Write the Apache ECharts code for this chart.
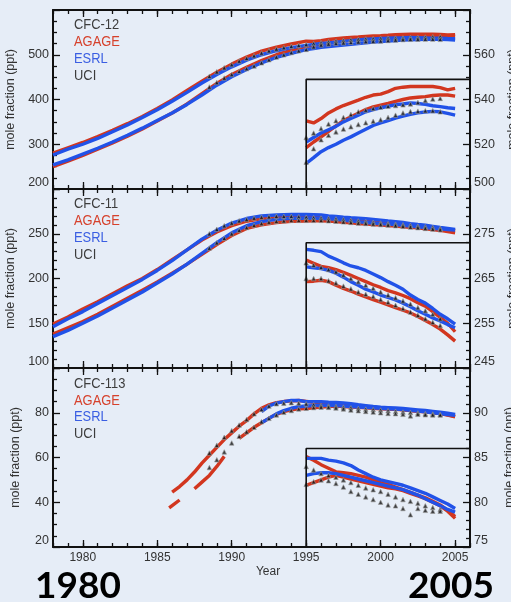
<!DOCTYPE html>
<html><head><meta charset="utf-8">
<script src="https://cdn.jsdelivr.net/npm/echarts@6/dist/echarts.min.js"></script>
<style>html,body{margin:0;padding:0;background:#e6edf7;}#c{width:511px;height:602px;}</style>
</head><body><div id="c"></div>
<script>
// ---------------- DATA ----------------
const xTickYears = [1980, 1985, 1990, 1995, 2000, 2005];
const insetStart = 1995;

// CFC-12
const years12 = [1978,1979,1980,1981,1982,1983,1984,1985,1986,1987,1988,1989,1990,1991,1992,1993,1994,
  1995,1995.5,1996,1996.5,1997,1997.5,1998,1998.5,1999,1999.5,2000,2000.5,2001,2001.5,2002,2002.5,2003,2003.5,2004,2004.5,2005];
const agage12NH = [280,292,304,317,331,346,362,380,399,420,441,461,479,495,508,517,524,
  530.5,529.5,531.5,534,535.8,537.3,538.5,539.7,541,542,542.4,543.5,545,545.5,545.8,545.8,545.8,545.8,545.3,544.3,545];
const agage12SH = [250,262,275,289,303,318,334,352,370,390,413,436,456,472,487,500,510,
  518.5,521,523.3,525.7,528.2,530.5,532.3,533.8,535.5,536.7,537.5,538.3,539.2,540,540.7,541,541.3,541.8,542,542,541.5];
const esrl12NH = [276,289,300,313,328,343,360,377,396,416,437,456,473,488,500,509,516,
  521,523,525,526.5,528,530,531.5,533,534.5,535.5,536.3,537,537.7,538,538.5,538.2,537.8,537.2,536.8,536.3,536];
const esrl12SH = [254,265,278,291,305,320,336,353,370,389,410,432,451,467,482,494,503,
  511.4,514,516.7,518.5,520,521.8,523.3,525,526.7,528.4,529.5,530.6,531.7,532.6,533.4,534,534.4,534.7,534.5,533.8,533];
const uciYears = [1988.5,1989,1989.5,1990,1990.5,1991,1991.5,1992,1992.5,1993,1993.5,1994,1994.5,
  1995,1995.5,1996,1996.5,1997,1997.5,1998,1998.5,1999,1999.5,2000,2000.5,2001,2001.5,2002,2002.5,2003,2003.5,2004];
const uci12NH = [452,462,471,478,486,492,498,504,509,513,516,519,521,
  523,525,527,529,530.5,532,533.3,534.5,535.3,536,536.6,537,537.3,537.6,538,538.7,539.5,540.2,540.5];
const uci12SH = [428,438,448,456,463,469,475,482,489,495,500,505,509,
  512,518,522,524,525.5,526.8,527.8,528.8,529.6,530.3,531,532,533,534,534.6,534.8,535,535,534.5];
const cfc12LeftTicks = [200, 300, 400, 500];
const cfc12RightTicks = [500, 520, 540, 560];

// CFC-11
const years11 = years12;
const agage11NH = [149,157,166,174,183,192,200,210,221,232,243,252,259,264,267,268,268.5,
  269.1,268.4,267.7,267.4,267,266.4,265.7,265,264.3,263.6,263,262.3,261.8,261.2,260.5,259.6,258.8,257.6,256.3,255,253.1];
const agage11SH = [138,145,152,160,169,178,187,196,206,216,227,238,248,256,260,262.5,264,
  264.3,264.4,264.6,264.3,263.5,262.8,262.2,261.5,260.9,260.3,259.7,259.1,258.5,257.9,257.3,256.5,255.6,254.7,253.7,252.4,251];
const esrl11NH = [146,155,163,172,181,190,199,209,220,232,244,254,262,267,270,271,271.5,
  271.5,271.3,271,270,269.3,268.5,267.8,267.4,266.8,266,265.2,264.3,263.5,262.6,261.3,260.3,259.5,258.3,257,256,254.8];
const esrl11SH = [135,142,150,158,167,176,185,195,205,216,228,240,251,259,263.5,266,267.3,
  267.6,267.4,267.2,266.8,266.2,265.3,264.3,263.5,262.6,262,261.3,260.8,260.2,259.5,258.7,257.8,257,256.2,255.5,254.7,254];
const uci11NH = [250,255,259,262,264.5,266,267.5,268.5,269,269.5,269.5,269.5,269,
  268.5,268,267.5,267,266.5,265.8,265,264.3,263.5,262.8,262,261.3,260.7,260,259.3,258.5,257.8,257,256];
const uci11SH = [234,240,245,250,254,257,259.5,261.5,263,264,264.5,265,265,
  265,265,265,264.5,264,263.3,262.7,262,261.5,261,260.3,259.7,259,258.3,257.5,256.8,256,255.2,254.5];
const cfc11LeftTicks = [100, 150, 200, 250];
const cfc11RightTicks = [245, 255, 265, 275];

// CFC-113
const years113 = [1985.8,1986,1986.5,1987,1987.5,1988,1988.5,1989,1989.5,1990,1990.5,1991,1991.5,1992,1992.5,1993,1993.5,1994,1994.5,
  1995,1995.5,1996,1996.5,1997,1997.5,1998,1998.5,1999,1999.5,2000,2000.5,2001,2001.5,2002,2002.5,2003,2003.5,2004,2004.5,2005];
const agage113NH = [null,44.5,47,50,53.5,57.5,61,64.5,68,71,74,76.5,79.5,82,83.5,84.5,85,85.3,85.5,
  85.1,84.7,84.2,83.8,83.4,83.3,83.2,83,82.8,82.5,82.2,82,81.7,81.4,81.1,80.8,80.5,80.1,79.7,79.1,78.4];
const agage113SH = [37.5,38.5,41,null,46,49,52,56,60.5,null,68.5,71,73.5,75.5,77.5,79.3,80.5,81.3,81.8,
  81.9,82.2,82.5,82.8,83,82.8,82.6,82.4,82.2,82,81.8,81.6,81.5,81.3,81,80.7,80.4,80,79.6,79,78.2];
const esrl113NH = [null,null,null,null,null,null,null,null,null,null,null,null,null,80.5,83,84.3,85,85.5,85.5,
  84.9,84.9,84.9,84.7,84.6,84.4,84.1,83.6,83.2,82.8,82.5,82.3,82.1,81.9,81.6,81.3,81,80.6,80.2,79.8,79.3];
const esrl113SH = [null,null,null,null,null,null,null,null,null,null,null,null,null,75.5,77.5,79.5,81,82,82.7,
  83,83.2,83.3,83.3,83.2,83,82.8,82.6,82.4,82.2,82,81.8,81.6,81.4,81.1,80.8,80.4,80,79.6,79.2,78.9];
const uci113NH = [62,65.5,69,72,74.5,77,79.5,81.5,83,84,84.3,84.5,84.3,
  84,83.6,83.2,83,82.8,82.5,82.2,81.9,81.6,81.4,81.2,80.9,80.6,80.3,80.1,79.9,79.6,79.4,79.2];
const uci113SH = [55.5,59,62.5,66.5,69.5,71.5,73.5,76,77.5,79,80.2,81,81.7,
  82,82.3,82.5,82.4,82.1,81.7,81.2,80.9,80.6,80.3,80,79.7,79.6,79.3,78.6,79.3,79.1,79,79];
const cfc113LeftTicks = [20, 40, 60, 80];
const cfc113RightTicks = [75, 80, 85, 90];

// ---------------- LAYOUT / STYLE ----------------
const RED = '#d2361f', BLUE = '#2152e8', INK = '#111';
const GL = 53, GR = 41, GH = 179, TOPS = [10, 189, 368];
const XMIN = 1978, XMAX = 2006;

const panels = [
  {title:'CFC-12', years:years12, aNH:agage12NH, aSH:agage12SH, eNH:esrl12NH, eSH:esrl12SH, uNH:uci12NH, uSH:uci12SH,
   lt:cfc12LeftTicks, lmax:600, lminor:4, rt:cfc12RightTicks, rmax:580, rminor:4, insetTop:549},
  {title:'CFC-11', years:years11, aNH:agage11NH, aSH:agage11SH, eNH:esrl11NH, eSH:esrl11SH, uNH:uci11NH, uSH:uci11SH,
   lt:cfc11LeftTicks, lmax:300, lminor:5, rt:cfc11RightTicks, rmax:285, rminor:5, insetTop:273},
  {title:'CFC-113', years:years113, aNH:agage113NH, aSH:agage113SH, eNH:esrl113NH, eSH:esrl113SH, uNH:uci113NH, uSH:uci113SH,
   lt:cfc113LeftTicks, lmax:100, lminor:4, rt:cfc113RightTicks, rmax:95, rminor:5, insetTop:86}
];

const grid = [], xAxis = [], yAxis = [], series = [], graphic = [];
const lineSt = {color: INK, width: 2};
const tickSt = {color: INK, width: 1.3};
const labelFont = {color:'#333', fontSize:12, fontFamily:'Liberation Sans, Arial, sans-serif'};

function pairs(xs, ys, filt) {
  const out = [];
  xs.forEach((x, i) => { if (!filt || x >= insetStart) out.push([x, ys[i]]); });
  return out;
}

panels.forEach((p, gi) => {
  grid.push({left: GL, right: GR, top: TOPS[gi], height: GH, containLabel:false, outerBoundsMode:'none'});
  const isLast = gi === panels.length - 1;
  const xb = xAxis.length;
  ['bottom', 'top'].forEach(pos => {
    xAxis.push({gridIndex: gi, type:'value', position: pos, min: XMIN, max: XMAX, interval: 1,
      axisLine:{show:true, onZero:false, lineStyle: lineSt},
      axisTick:{show:true, inside:true, length:4, lineStyle: tickSt},
      axisLabel:{show:false}, splitLine:{show:false}});
    const showLab = isLast && pos === 'bottom';
    xAxis.push({gridIndex: gi, type:'value', position: pos, min: XMIN, max: XMAX,
      axisLine:{show:false},
      axisTick:{show:true, inside:true, length:7, customValues: xTickYears, lineStyle: tickSt},
      axisLabel:{show: showLab, customValues: xTickYears, margin: 5, formatter: v => String(v), ...labelFont},
      splitLine:{show:false},
      name: showLab ? 'Year' : '', nameLocation:'middle', nameGap: 19,
      nameTextStyle:{...labelFont, padding:[0,0,0,13]}});
  });
  const yl = yAxis.length;
  yAxis.push({gridIndex: gi, type:'value', position:'left', min: p.lt[0], max: p.lmax, interval: p.lt[1]-p.lt[0],
    axisLine:{show:true, onZero:false, lineStyle: lineSt},
    axisTick:{show:true, inside:true, length:7, lineStyle: tickSt},
    minorTick:{show:true, splitNumber: p.lminor, length:4, lineStyle: tickSt},
    axisLabel:{showMaxLabel:false, margin:4, verticalAlignMinLabel:'bottom', ...labelFont, fontSize:12.5},
    splitLine:{show:false}, minorSplitLine:{show:false},
    name:'mole fraction (ppt)', nameLocation:'middle', nameGap:31, nameRotate:90,
    nameTextStyle:{...labelFont, fontSize:12.5}});
  yAxis.push({gridIndex: gi, type:'value', position:'right', min: p.rt[0], max: p.rmax, interval: p.rt[1]-p.rt[0],
    axisLine:{show:true, onZero:false, lineStyle: lineSt},
    axisTick:{show:true, inside:true, length:7, lineStyle: tickSt},
    minorTick:{show:true, splitNumber: p.rminor, length:4, lineStyle: tickSt},
    axisLabel:{showMaxLabel:false, margin:4, verticalAlignMinLabel:'bottom', ...labelFont, fontSize:12.5},
    splitLine:{show:false}, minorSplitLine:{show:false},
    name:'mole fraction (ppt)', nameLocation:'middle', nameGap:33, nameRotate:90,
    nameTextStyle:{...labelFont, fontSize:12.5}});

  const lines = [[p.aNH, RED], [p.aSH, RED], [p.eNH, BLUE], [p.eSH, BLUE]];
  [false, true].forEach(inset => {
    const yIdx = inset ? yl + 1 : yl;
    lines.forEach(([vals, col]) => {
      series.push({type:'line', xAxisIndex: xb, yAxisIndex: yIdx, data: pairs(p.years, vals, inset),
        symbol:'none', connectNulls:false, silent:true, animation:false,
        lineStyle:{color: col, width: 3.4}, z: col === BLUE ? 3 : 2});
    });
    [p.uNH, p.uSH].forEach(vals => {
      series.push({type:'scatter', xAxisIndex: xb, yAxisIndex: yIdx, data: pairs(uciYears, vals, inset),
        symbol:'triangle', symbolSize: 4.5, silent:true, animation:false,
        itemStyle:{color: INK, borderColor:'#9a9a9a', borderWidth:0.8}, z: 4});
    });
  });
  // inset frame
  series.push({type:'line', xAxisIndex: xb, yAxisIndex: yl + 1,
    data: [[insetStart, p.rt[0]], [insetStart, p.insetTop], [XMAX, p.insetTop]],
    symbol:'none', silent:true, animation:false, lineStyle:{color: INK, width: 1.6}, z: 5});

  // titles / legend text
  const labels = [[p.title, '#3c3c3c'], ['AGAGE', '#d6412c'], ['ESRL', '#3a5ee2'], ['UCI', '#3c3c3c']];
  const y0 = [25, 204, 384][gi];
  const dy = [17, 17, 16.5][gi];
  labels.forEach(([t, c], k) => {
    graphic.push({type:'text', x: 74, y: y0 + k * dy, scaleX: 0.86, silent:true,
      style:{text: t, fill: c, font: '15px "Liberation Sans", Arial, sans-serif',
        verticalAlign:'middle', align:'left'}});
  });
});

graphic.push({type:'text', x: 78, y: 586, silent:true,
  style:{text:'1980', fill:'#000', font:'bold 37px Lato, "Open Sans", sans-serif', align:'center', verticalAlign:'middle'}});
graphic.push({type:'text', x: 451, y: 586, silent:true,
  style:{text:'2005', fill:'#000', font:'bold 37px Lato, "Open Sans", sans-serif', align:'center', verticalAlign:'middle'}});

const chart = echarts.init(document.getElementById('c'));
chart.setOption({backgroundColor:'#e6edf7', animation:false, grid, xAxis, yAxis, series, graphic});
</script></body></html>
